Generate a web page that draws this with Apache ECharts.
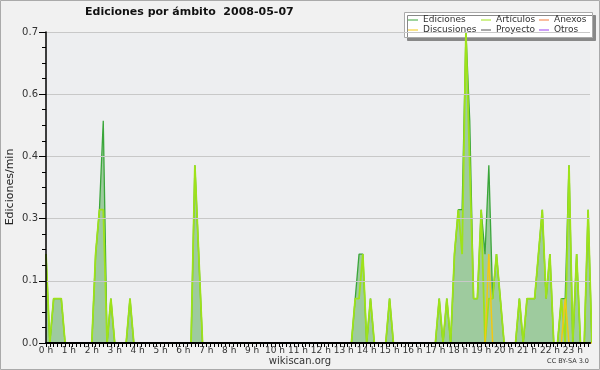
<!DOCTYPE html>
<html><head><meta charset="utf-8">
<script src="https://cdn.jsdelivr.net/npm/echarts@6/dist/echarts.min.js"></script>
<style>html,body{margin:0;padding:0;background:#f1f1f1}#c{width:600px;height:370px}</style>
</head><body><div id="c"></div>
<script>
// hour tick labels
const hourLabels = ["0 h","1 h","2 h","3 h","4 h","5 h","6 h","7 h","8 h","9 h","10 h","11 h","12 h","13 h","14 h","15 h","16 h","17 h","18 h","19 h","20 h","21 h","22 h","23 h"];
const yTicks = [0, 0.14, 0.28, 0.42, 0.56, 0.7];

// edits per minute, one value per 10-minute slot (12 per row = 2 hours)
const ediciones = [
  0.2,0,0.1,0.1,0.1,0,0,0,0,0,0,0,
  0,0.2,0.3,0.5,0,0.1,0,0,0,0,0.1,0,
  0,0,0,0,0,0,0,0,0,0,0,0,
  0,0,0,0.4,0.2,0,0,0,0,0,0,0,
  0,0,0,0,0,0,0,0,0,0,0,0,
  0,0,0,0,0,0,0,0,0,0,0,0,
  0,0,0,0,0,0,0,0,0,0.1,0.2,0.2,
  0,0.1,0,0,0,0,0.1,0,0,0,0,0,
  0,0,0,0,0,0,0,0.1,0,0.1,0,0.2,
  0.3,0.3,0.7,0.5,0.1,0.1,0.3,0.2,0.4,0.1,0.2,0.1,
  0,0,0,0,0.1,0,0.1,0.1,0.1,0.2,0.3,0.1,
  0.2,0,0,0.1,0.1,0.4,0,0.2,0,0,0.3,0
];
const articulos = [
  0.2,0,0.1,0.1,0.1,0,0,0,0,0,0,0,
  0,0.2,0.3,0.3,0,0.1,0,0,0,0,0.1,0,
  0,0,0,0,0,0,0,0,0,0,0,0,
  0,0,0,0.4,0.2,0,0,0,0,0,0,0,
  0,0,0,0,0,0,0,0,0,0,0,0,
  0,0,0,0,0,0,0,0,0,0,0,0,
  0,0,0,0,0,0,0,0,0,0.1,0.1,0.2,
  0,0.1,0,0,0,0,0.1,0,0,0,0,0,
  0,0,0,0,0,0,0,0.1,0,0.1,0,0.2,
  0.3,0.2,0.7,0.4,0.1,0.1,0.3,0,0.1,0.1,0.2,0.1,
  0,0,0,0,0.1,0,0.1,0.1,0.1,0.2,0.3,0.1,
  0.2,0,0,0.1,0,0.4,0,0.2,0,0,0.3,0
];
const discusiones = [
  0,0,0,0,0,0,0,0,0,0,0,0,
  0,0,0,0,0,0,0,0,0,0,0,0,
  0,0,0,0,0,0,0,0,0,0,0,0,
  0,0,0,0,0,0,0,0,0,0,0,0,
  0,0,0,0,0,0,0,0,0,0,0,0,
  0,0,0,0,0,0,0,0,0,0,0,0,
  0,0,0,0,0,0,0,0,0,0,0,0,
  0,0,0,0,0,0,0,0,0,0,0,0,
  0,0,0,0,0,0,0,0,0,0,0,0,
  0,0,0,0,0,0,0,0,0.2,0,0,0,
  0,0,0,0,0,0,0,0,0,0,0,0,
  0,0,0,0,0.1,0,0,0,0,0,0,0
];
const proyecto = ediciones.map(() => 0);
const anexos = ediciones.map(() => 0);
const otros = ediciones.map(() => 0);

const FONT = "DejaVu Sans";
const chart = echarts.init(document.getElementById("c"), null, {renderer: "canvas"});
const pairs = arr => arr.map((v, i) => [i, v]);
function line(name, data, color, width, z) {
  return {name, type: "line", data: pairs(data), symbol: "none", z, animation: false, clip: true,
    lineStyle: {color, width}, itemStyle: {color}};
}
const legendBase = {orient: "vertical", top: 15, itemGap: 0, icon: "rect", itemWidth: 10, itemHeight: 1,
  textStyle: {fontFamily: FONT, fontSize: 9, color: "#333", lineHeight: 10}, selectedMode: false, padding: 0};
chart.setOption({
  backgroundColor: "#f1f1f1",
  animation: false,
  title: {text: "Ediciones por ámbito  2008-05-07", left: 85, top: 7, padding: 0,
    textStyle: {fontFamily: FONT, fontSize: 11, fontWeight: "bold", color: "#111"}},
  grid: {left: 46, right: 10, top: 32, bottom: 27, show: true, backgroundColor: "#edeef0", borderWidth: 0,
    containLabel: false, outerBoundsMode: "none"},
  legend: [
    Object.assign({}, legendBase, {left: 408, data: ["Ediciones", "Discusiones"]}),
    Object.assign({}, legendBase, {left: 481, data: ["Artículos", "Proyecto"]}),
    Object.assign({}, legendBase, {left: 539, data: ["Anexos", "Otros"]})
  ],
  xAxis: {type: "value", min: 0, max: 142.5, interval: 1, z: 10,
    axisLine: {lineStyle: {color: "#000", width: 2}},
    axisTick: {length: 4, lineStyle: {color: "#000"}},
    axisLabel: {margin: 3, fontFamily: FONT, fontSize: 9, color: "#333", showMaxLabel: false,
      formatter: v => (Number.isInteger(v) && v % 6 === 0) ? hourLabels[v / 6] : ""},
    splitLine: {show: false}},
  yAxis: {type: "value", min: 0, max: 0.7, interval: 0.14, z: 10,
    axisLine: {show: true, lineStyle: {color: "#000", width: 1.5}},
    axisTick: {show: true, length: 7, lineStyle: {color: "#000"}},
    minorTick: {show: true, splitNumber: 4, length: 4, lineStyle: {color: "#000"}},
    axisLabel: {margin: 8, fontFamily: FONT, fontSize: 10, color: "#333", formatter: v => v.toFixed(1)},
    splitLine: {lineStyle: {color: "#c8c8c8"}}},
  series: [
    Object.assign(line("Ediciones", ediciones, "#3aa63a", 1.3, 2), {areaStyle: {color: "#9ecb9e", opacity: 1}}),
    line("Artículos", articulos, "#9ee21a", 1.8, 3),
    line("Discusiones", discusiones, "#f3c813", 1.5, 4),
    line("Proyecto", proyecto, "#555555", 1, 1),
    line("Anexos", anexos, "#f47a3c", 1, 1),
    line("Otros", otros, "#9b3ff0", 1, 1)
  ],
  graphic: [
    {type: "rect", z: -1, shape: {x: 0.5, y: 0.5, width: 599, height: 369}, style: {fill: "none", stroke: "#aaa", lineWidth: 1}},
    {type: "rect", z: 0, shape: {x: 404.5, y: 12.5, width: 188, height: 25},
      style: {fill: "#fff", stroke: "#aaa", lineWidth: 1, shadowColor: "#888", shadowOffsetX: 3, shadowOffsetY: 3, shadowBlur: 0}},
    {type: "text", z: 5, x: 10, y: 187, rotation: Math.PI / 2,
      style: {text: "Ediciones/min", align: "center", verticalAlign: "middle", fontFamily: FONT, fontSize: 11, fill: "#222"}},
    {type: "text", z: 5, x: 300, y: 361,
      style: {text: "wikiscan.org", align: "center", verticalAlign: "middle", fontFamily: FONT, fontSize: 10, fill: "#333"}},
    {type: "text", z: 5, x: 589, y: 358, style: {text: "CC BY-SA 3.0", align: "right", fontFamily: FONT, fontSize: 6.5, fill: "#333"}}
  ]
});
</script></body></html>
